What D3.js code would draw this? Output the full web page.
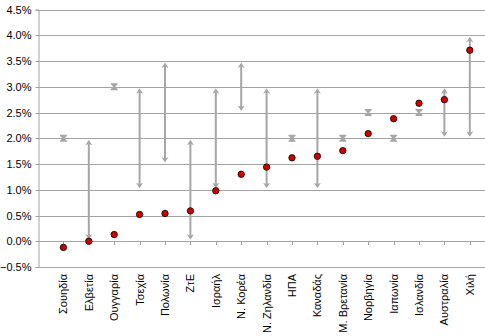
<!DOCTYPE html>
<html><head><meta charset="utf-8">
<script src="https://cdn.jsdelivr.net/npm/d3@7"></script>
<style>body{margin:0;background:#fff}svg{display:block}</style>
</head><body>
<svg id="c" width="485" height="336"></svg>
<script>
const categories = ["Σουηδία","Ελβετία","Ουγγαρία","Τσεχία","Πολωνία","ΖτΕ","Ισραήλ","Ν. Κορέα","Ν. Ζηλανδία","ΗΠΑ","Καναδάς","Μ. Βρετανία","Νορβηγία","Ιαπωνία","Ισλανδία","Αυστραλία","Χιλή"];
const inflation = [-0.12, 0.0, 0.13, 0.52, 0.54, 0.59, 0.98, 1.30, 1.44, 1.62, 1.65, 1.76, 2.09, 2.38, 2.68, 2.75, 3.71];
const targetLow  = [2.0, 0.0, 3.0, 1.0, 1.5, 0.0, 1.0, 2.5, 1.0, 2.0, 1.0, 2.0, 2.5, 2.0, 2.5, 2.0, 2.0];
const targetHigh = [2.0, 2.0, 3.0, 3.0, 3.5, 2.0, 3.0, 3.5, 3.0, 2.0, 3.0, 2.0, 2.5, 2.0, 2.5, 3.0, 4.0];
const yTicks = [-0.5, 0, 0.5, 1, 1.5, 2, 2.5, 3, 3.5, 4, 4.5];

const svg = d3.select("#c");
const x = d3.scaleLinear().domain([0, categories.length + 1]).range([38, 38 + 18 * 25.4]);
const y = d3.scaleLinear().domain([-0.5, 4.5]).range([267, 9.5]);
const grid = "#a3a3a3", arrowC = "#a6a6a6";
const font = "'Liberation Sans', Arial, sans-serif";

// gridlines
svg.append("g").selectAll("line").data(yTicks).join("line")
  .attr("x1", x(0)).attr("x2", 485)
  .attr("y1", d => Math.round(y(d)) + 0.5).attr("y2", d => Math.round(y(d)) + 0.5)
  .attr("stroke", grid).attr("stroke-width", 1);

// y axis
const yAxis = d3.axisLeft(y).tickValues(yTicks).tickSize(3).tickPadding(4)
  .tickFormat(d => d3.format(".1%")(d / 100));
const ga = svg.append("g").attr("transform", `translate(${x(0) + 0.5},0)`).call(yAxis);
ga.select(".domain").attr("stroke", grid);
ga.selectAll(".tick line").attr("stroke", grid);
ga.selectAll(".tick").attr("transform", d => `translate(0,${Math.round(y(d)) + 0.5})`);
ga.selectAll("text").attr("font-family", font).attr("font-size", "11px").attr("fill", "#000");

// x axis ticks on zero line
const idx = categories.map((c, i) => i + 1);
svg.append("g").selectAll("line").data(idx).join("line")
  .attr("x1", d => Math.round(x(d)) + 0.5).attr("x2", d => Math.round(x(d)) + 0.5)
  .attr("y1", Math.round(y(0))).attr("y2", Math.round(y(0)) + 4)
  .attr("stroke", grid);

// x labels
svg.append("g").selectAll("text").data(categories).join("text")
  .attr("transform", (d, i) => `translate(${x(i + 1) + 4},274) rotate(-90)`)
  .attr("text-anchor", "end")
  .attr("font-family", font).attr("font-size", "11px").attr("fill", "#000")
  .text(d => d);

// arrows
const head = "M0,0 L3.5,5.5 L0,4 L-3.5,5.5 Z";
const ag = svg.append("g");
categories.forEach((c, i) => {
  const cx = x(i + 1);
  const lo = targetLow[i], hi = targetHigh[i];
  if (lo === hi) {
    const cy = y(lo);
    ag.append("path")
      .attr("transform", `translate(${cx},${cy})`)
      .attr("d", "M-3.5,-3.5 H3.5 V-2.5 L1,0 L3.5,2.5 V3.5 H-3.5 V2.5 L-1,0 L-3.5,-2.5 Z")
      .attr("fill", arrowC);
  } else {
    const yt = y(hi) + 1.5, yb = y(lo) - 1.5;
    ag.append("line").attr("x1", cx).attr("x2", cx).attr("y1", yt + 3).attr("y2", yb - 3)
      .attr("stroke", arrowC).attr("stroke-width", 2);
    ag.append("path").attr("transform", `translate(${cx},${yt})`).attr("d", head).attr("fill", arrowC);
    ag.append("path").attr("transform", `translate(${cx},${yb}) rotate(180)`).attr("d", head).attr("fill", arrowC);
  }
});

// dots
svg.append("g").selectAll("circle").data(inflation).join("circle")
  .attr("cx", (d, i) => x(i + 1)).attr("cy", d => y(d)).attr("r", 3.2)
  .attr("fill", "#d00000").attr("stroke", "#000").attr("stroke-width", 0.8);
</script>
</body></html>
